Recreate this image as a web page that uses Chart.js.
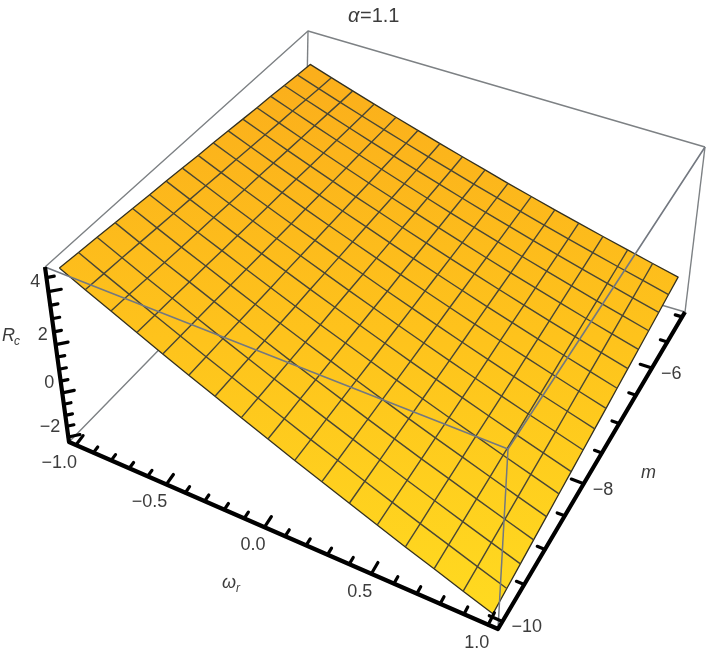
<!DOCTYPE html>
<html><head><meta charset="utf-8">
<style>html,body{margin:0;padding:0;background:#fff}canvas{display:block}</style>
<script src="https://cdn.jsdelivr.net/npm/chart.js@4/dist/chart.umd.min.js"></script>
</head><body><canvas id="c" width="708" height="654"></canvas>
<script>
const omegaValues = [-1,-0.875,-0.75,-0.625,-0.5,-0.375,-0.25,-0.125,0,0.125,0.25,0.375,0.5,0.625,0.75,0.875,1];
const mValues = [-10,-9.6875,-9.375,-9.0625,-8.75,-8.4375,-8.125,-7.8125,-7.5,-7.1875,-6.875,-6.5625,-6.25,-5.9375,-5.625,-5.3125,-5];
const rcRows = [
[4.75,4.32,3.90,3.47,3.04,2.61,2.19,1.76,1.33,0.90,0.48,0.05,-0.38,-0.81,-1.23,-1.66,-2.09],
[4.69,4.27,3.86,3.44,3.02,2.60,2.19,1.77,1.35,0.93,0.52,0.10,-0.32,-0.74,-1.15,-1.57,-1.99],
[4.64,4.23,3.82,3.42,3.01,2.60,2.19,1.78,1.38,0.97,0.56,0.15,-0.26,-0.66,-1.07,-1.48,-1.89],
[4.58,4.18,3.78,3.39,2.99,2.59,2.19,1.79,1.40,1.00,0.60,0.20,-0.20,-0.59,-0.99,-1.39,-1.79],
[4.52,4.13,3.74,3.36,2.97,2.58,2.19,1.80,1.42,1.03,0.64,0.25,-0.14,-0.52,-0.91,-1.30,-1.69],
[4.46,4.08,3.70,3.33,2.95,2.57,2.19,1.81,1.44,1.06,0.68,0.30,-0.08,-0.45,-0.83,-1.21,-1.59],
[4.41,4.04,3.67,3.30,2.93,2.57,2.20,1.83,1.46,1.09,0.72,0.35,-0.02,-0.39,-0.76,-1.12,-1.49],
[4.35,3.99,3.63,3.27,2.91,2.56,2.20,1.84,1.48,1.12,0.76,0.40,0.04,-0.32,-0.68,-1.03,-1.39],
[4.29,3.94,3.59,3.24,2.89,2.55,2.20,1.85,1.50,1.15,0.80,0.45,0.10,-0.25,-0.60,-0.94,-1.29],
[4.24,3.90,3.56,3.22,2.88,2.54,2.21,1.87,1.53,1.19,0.85,0.51,0.17,-0.17,-0.51,-0.85,-1.19],
[4.18,3.85,3.52,3.19,2.86,2.53,2.21,1.88,1.55,1.22,0.89,0.56,0.23,-0.10,-0.43,-0.76,-1.09],
[4.12,3.80,3.48,3.16,2.84,2.52,2.21,1.89,1.57,1.25,0.93,0.61,0.29,-0.03,-0.35,-0.67,-0.99],
[4.06,3.75,3.44,3.13,2.82,2.51,2.21,1.90,1.59,1.28,0.97,0.66,0.35,0.04,-0.27,-0.58,-0.89],
[4.01,3.71,3.41,3.11,2.81,2.51,2.21,1.91,1.61,1.31,1.01,0.71,0.41,0.11,-0.19,-0.49,-0.79],
[3.95,3.66,3.37,3.08,2.79,2.50,2.21,1.92,1.63,1.34,1.05,0.76,0.47,0.18,-0.11,-0.40,-0.69],
[3.89,3.61,3.33,3.05,2.77,2.49,2.21,1.93,1.65,1.37,1.09,0.81,0.53,0.25,-0.03,-0.31,-0.59],
[3.84,3.57,3.30,3.03,2.76,2.49,2.22,1.95,1.68,1.40,1.13,0.86,0.59,0.32,0.05,-0.22,-0.49]
];
const omegaMajorTicks = [-1,-0.5,0,0.5,1];
const omegaMinorTicks = [-0.9,-0.8,-0.7,-0.6,-0.4,-0.3,-0.2,-0.1,0.1,0.2,0.3,0.4,0.6,0.7,0.8,0.9];
const mMajorTicks = [-10,-8,-6];
const mMinorTicks = [-9.5,-9,-8.5,-7.5,-7,-6.5,-5.5,-5];
const rcMajorTicks = [-2,0,2,4];
const rcMinorTicks = [-1.5,-1,-0.5,0.5,1,1.5,2.5,3,3.5,4.5];
const omegaTickLabels = ['\u22121.0','\u22120.5','0.0','0.5','1.0'];
const mTickLabels = ['\u221210','\u22128','\u22126'];
const rcTickLabels = ['\u22122','0','2','4'];
const omegaRange = [-1.04,1.04], mRange = [-10.1,-4.9], rcRange = [-2.24,4.87];

// camera: projective maps of the floor and the ceiling of the plot box, mixed in homogeneous coordinates
const floorView = [347.96,299.75,69,84.64,-200.19,442,-0.16274,0.20903];
const ceilView  = [397.0,334.06,45,123.67,-228.85,267,-0.12992,0.23072];
const ceilWeight = 0.85;
function hom(H,u,v){return [H[0]*u+H[1]*v+H[2],H[3]*u+H[4]*v+H[5],H[6]*u+H[7]*v+1];}
function boxPoint(u,v,w){const a=hom(floorView,u,v),b=hom(ceilView,u,v),s=ceilWeight*w,r=1-w;
  const d=a[2]*r+b[2]*s;return {x:(a[0]*r+b[0]*s)/d,y:(a[1]*r+b[1]*s)/d};}
const U=o=>(o-omegaRange[0])/(omegaRange[1]-omegaRange[0]);
const V=m=>(m-mRange[0])/(mRange[1]-mRange[0]);
const W=z=>(z-rcRange[0])/(rcRange[1]-rcRange[0]);
const P=(o,m,z)=>boxPoint(U(o),V(m),W(z));

const canvas=document.getElementById('c');
const ctx=canvas.getContext('2d');
const surfaceFill=ctx.createLinearGradient(0,64,0,614);
surfaceFill.addColorStop(0,'#fbae1b');
surfaceFill.addColorStop(0.5,'#fec31c');
surfaceFill.addColorStop(1,'#ffda20');

const datasets=[];
function add(points,color,width,extra){
  datasets.push(Object.assign({data:points,borderColor:color,borderWidth:width,showLine:true,pointRadius:0,
    tension:0,fill:false,clip:false,order:-datasets.length,borderCapStyle:'butt',borderJoinStyle:'round'},extra||{}));
}
const [oLo,oHi]=omegaRange,[mLo,mHi]=mRange,[zLo,zHi]=rcRange;
const GRAY='#7d8184';
// back edges of the box
add([P(oLo,mLo,zLo),P(oLo,mHi,zLo),P(oHi,mHi,zLo)],GRAY,1.4);
add([P(oLo,mHi,zLo),P(oLo,mHi,zHi)],GRAY,1.4);
add([P(oLo,mLo,zHi),P(oLo,mHi,zHi),P(oHi,mHi,zHi)],GRAY,1.4);
add([P(oHi,mHi,zLo),P(oHi,mHi,zHi)],GRAY,1.4);
// surface
const n=omegaValues.length-1,k=mValues.length-1;
const outline=[];
omegaValues.forEach((o,i)=>outline.push(P(o,mValues[0],rcRows[0][i])));
mValues.forEach((m,j)=>outline.push(P(omegaValues[n],m,rcRows[j][n])));
for(let i=n;i>=0;i--)outline.push(P(omegaValues[i],mValues[k],rcRows[k][i]));
for(let j=k;j>=0;j--)outline.push(P(omegaValues[0],mValues[j],rcRows[j][0]));
add(outline,'#33301f',1.3,{fill:'shape',backgroundColor:surfaceFill});
// mesh
const MESH='#4a4735';
for(let j=1;j<k;j++)add(omegaValues.map((o,i)=>P(o,mValues[j],rcRows[j][i])),MESH,1.4);
for(let i=1;i<n;i++)add(mValues.map((m,j)=>P(omegaValues[i],m,rcRows[j][i])),MESH,1.4);
// front edges over the surface
add([P(oLo,mLo,zHi),P(oHi,mLo,zHi),P(oHi,mHi,zHi)],'#737880',1.6);
add([P(oHi,mLo,zHi),P(oHi,mLo,zLo)],'#737880',1.5);
// axes
const BLACK='#000';
add([P(oLo,mLo,zHi),P(oLo,mLo,zLo),P(oHi,mLo,zLo),P(oHi,mHi,zLo)],BLACK,4.2);
const dO=oHi-oLo,dM=mHi-mLo,dZ=zHi-zLo;
function tO(o,s){add([P(o,mLo,zLo),P(o,mLo+0.026*s*dM,zLo+0.012*s*dZ)],BLACK,3.2,{borderCapStyle:'round'});}
function tM(m,s){add([P(oHi,m,zLo),P(oHi-0.026*s*dO,m,zLo)],BLACK,3.2,{borderCapStyle:'round'});}
function tZ(z,s){add([P(oLo,mLo,z),P(oLo+0.018*s*dO,mLo+0.018*s*dM,z)],BLACK,3.2,{borderCapStyle:'round'});}
omegaMajorTicks.forEach(o=>tO(o,1));omegaMinorTicks.forEach(o=>tO(o,0.6));
mMajorTicks.forEach(m=>tM(m,1));mMinorTicks.forEach(m=>tM(m,0.6));
rcMajorTicks.forEach(z=>tZ(z,1));rcMinorTicks.forEach(z=>tZ(z,0.6));

const TEXT='#3c3c3c';
const labelsPlugin={id:'labels3d',afterDraw(chart){
  const c=chart.ctx,sx=chart.scales.x,sy=chart.scales.y;
  const at=p=>[sx.getPixelForValue(p.x),sy.getPixelForValue(p.y)];
  c.save();c.fillStyle=TEXT;c.textBaseline='middle';
  c.font='18px "Liberation Sans"';
  c.textAlign='right';
  omegaMajorTicks.forEach((o,i)=>{const [x,y]=at(P(o,mLo,zLo));c.fillText(omegaTickLabels[i],x+1,y+18);});
  rcMajorTicks.forEach((z,i)=>{const [x,y]=at(P(oLo,mLo,z));c.fillText(rcTickLabels[i],x-8,y-10);});
  c.textAlign='left';
  mMajorTicks.forEach((m,i)=>{const [x,y]=at(P(oHi,m,zLo));c.fillText(mTickLabels[i],x+9,y+6);});
  // axis titles
  c.font='italic 18px "Liberation Sans"';
  c.fillText('m',641,473);
  c.fillText('\u03c9',222,583);
  c.fillText('R',2,336);
  c.font='italic 12px "Liberation Sans"';
  c.fillText('r',236,589);
  c.fillText('c',14,342);
  // title
  c.font='italic 20px "Liberation Sans"';c.fillText('\u03b1',348,16);
  c.font='20px "Liberation Sans"';c.fillText('=1.1',360,16);
  c.restore();
}};

new Chart(ctx,{type:'scatter',data:{datasets},plugins:[labelsPlugin],options:{
  responsive:false,animation:false,events:[],
  layout:{padding:0},
  plugins:{legend:{display:false},tooltip:{enabled:false},title:{display:false}},
  scales:{x:{type:'linear',min:0,max:708,display:false},y:{type:'linear',min:0,max:654,reverse:true,display:false}}
}});
</script></body></html>
